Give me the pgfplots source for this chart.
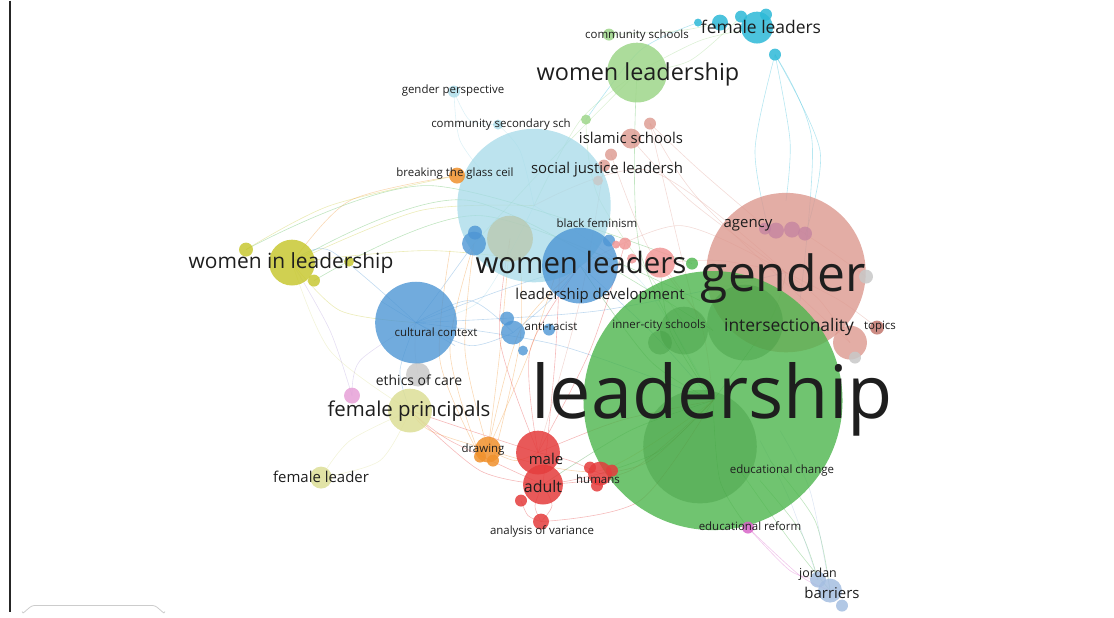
\documentclass[border=0pt]{standalone}
\usepackage{pgfplots}
\pgfplotsset{compat=1.18}
\usepackage{fontspec}
\setmainfont{Open Sans}
\definecolor{cgreen}{RGB}{76,181,76}
\definecolor{cdgreen}{RGB}{60,150,60}
\definecolor{clgreen}{RGB}{158,214,138}
\definecolor{crosy}{RGB}{220,152,142}
\definecolor{cagency}{RGB}{195,130,160}
\definecolor{ctopic}{RGB}{190,110,100}
\definecolor{cgray}{RGB}{200,200,200}
\definecolor{clblue}{RGB}{165,218,232}
\definecolor{ckhaki}{RGB}{185,198,170}
\definecolor{ccyan}{RGB}{45,185,215}
\definecolor{cblue}{RGB}{78,150,212}
\definecolor{cpblue}{RGB}{165,190,225}
\definecolor{cyel}{RGB}{200,200,50}
\definecolor{cpyel}{RGB}{220,222,150}
\definecolor{cpink}{RGB}{230,160,215}
\definecolor{corange}{RGB}{240,145,45}
\definecolor{cred}{RGB}{228,60,60}
\definecolor{csalmon}{RGB}{240,150,150}
\definecolor{cmag}{RGB}{215,100,200}
\definecolor{cpurple}{RGB}{180,160,220}
\definecolor{labc}{RGB}{30,30,30}
\pgfplotsset{
  bub/.style 2 args={scatter, only marks, mark=*, color=#1, point meta=\thisrow{r},
    mark options={fill=#1, draw opacity=0, fill opacity=#2},
    visualization depends on={\thisrow{r}\as\rad},
    scatter/@pre marker code/.code={\scope[mark size=\rad]},
    scatter/@post marker code/.code={\endscope}},
  edge/.style={smooth, no marks, line width=0.6pt, draw=#1, draw opacity=0.35},
}
\newcommand{\lab}[4]{\node[anchor=base, inner sep=0pt, text=labc, font={\fontsize{#3}{#3}\selectfont}] at (axis cs:#1,#2) {#4};}
\begin{document}
\begin{tikzpicture}
\begin{axis}[width=1114bp, height=611bp, scale only axis,
  xmin=0, xmax=1114, ymin=0, ymax=611, y dir=reverse,
  hide axis, clip=false, set layers]
\path (axis cs:0,0) rectangle (axis cs:1114,611);
% ---------------- bubbles ----------------
\addplot[bub={crosy}{0.8}] table {
x y r
786 272 80
850 342 17
631 138 10
650 123 6
611 154 6
604 165 6
};
\addplot[bub={clblue}{0.75}] table {
x y r
534 205 77
454 91 6
498 124 5
};
\addplot[bub={ckhaki}{0.7}] table {
x y r
510 238 23
};
\addplot[bub={cgreen}{0.8}] table {
x y r
713 400 130
692 263 6
};
\addplot[bub={cdgreen}{0.35}] table {
x y r
700 446 57
745 322 38
684 330 24
660 342 12
};
\addplot[bub={clgreen}{0.85}] table {
x y r
637 72 30
609 34 6
586 119 5
};
\addplot[bub={cagency}{0.75}] table {
x y r
776 230 8
792 229 8
805 233 7
765 228 6
};
\addplot[bub={ctopic}{0.8}] table {
x y r
877 327 7
};
\addplot[bub={cgray}{0.85}] table {
x y r
866 276 7
855 357 6
418 374 12
598 180 5
};
\addplot[bub={ccyan}{0.85}] table {
x y r
757 27 16
720 22 8
741 16 6
766 14 6
775 54 6
698 22 4
};
\addplot[bub={cblue}{0.8}] table {
x y r
580 265 38
416 322 41
513 332 12
507 318 7
549 329 6
523 350 5
474 243 12
475 232 7
609 240 6
};
\addplot[bub={cpblue}{0.85}] table {
x y r
830 590 12
818 579 8
842 605 6
};
\addplot[bub={cyel}{0.85}] table {
x y r
292 262 23
246 249 7
314 280 6
349 261 5
};
\addplot[bub={cpyel}{0.85}] table {
x y r
410 410 22
321 477 11
};
\addplot[bub={cpink}{0.85}] table {
x y r
352 395 8
};
\addplot[bub={corange}{0.85}] table {
x y r
488 449 13
493 460 6
480 456 6
457 175 8
};
\addplot[bub={cred}{0.85}] table {
x y r
538 452 22
543 484 20
541 521 8
600 473 12
590 467 6
612 470 6
597 485 6
521 500 6
};
\addplot[bub={csalmon}{0.85}] table {
x y r
660 262 15
625 243 6
632 258 5
616 244 4
};
\addplot[bub={cmag}{0.85}] table {
x y r
748 527 6
};
% ---------------- edges ----------------
\addplot[edge=cgreen] coordinates {(713,400) (640,250) (637,72)};
\addplot[edge=cgreen] coordinates {(246,249) (430,185) (692,263)};
\addplot[edge=cgreen] coordinates {(292,262) (470,200) (713,330)};
\addplot[edge=cgreen] coordinates {(314,280) (480,215) (700,300)};
\addplot[edge=cdgreen] coordinates {(713,400) (660,450) (600,473)};
\addplot[edge=cdgreen] coordinates {(713,400) (630,430) (543,484)};
\addplot[edge=cdgreen] coordinates {(713,400) (770,320) (786,272)};
\addplot[edge=cdgreen] coordinates {(713,400) (720,480) (748,527)};
\addplot[edge=cdgreen] coordinates {(713,400) (670,330) (660,262)};
\addplot[edge=cdgreen] coordinates {(713,400) (650,360) (580,265)};
\addplot[edge=clgreen] coordinates {(586,119) (600,200) (690,330)};
\addplot[edge=clgreen] coordinates {(637,72) (580,120) (534,205)};
\addplot[edge=clgreen] coordinates {(637,72) (560,150) (474,243)};
\addplot[edge=clgreen] coordinates {(609,34) (680,30) (720,22)};
\addplot[edge=clgreen] coordinates {(637,72) (700,40) (757,27)};
\addplot[edge=clgreen] coordinates {(637,72) (690,60) (741,16)};
\addplot[edge=cgreen] coordinates {(760,480) (800,530) (818,579)};
\addplot[edge=cgreen] coordinates {(740,470) (790,540) (830,590)};
\addplot[edge=cgreen] coordinates {(770,460) (815,520) (830,590)};
\addplot[edge=ccyan] coordinates {(775,54) (755,150) (770,235)};
\addplot[edge=ccyan] coordinates {(775,54) (820,150) (805,235)};
\addplot[edge=ccyan] coordinates {(775,54) (790,140) (786,200)};
\addplot[edge=ccyan] coordinates {(775,54) (812,140) (800,300)};
\addplot[edge=ccyan] coordinates {(698,22) (640,50) (586,119)};
\addplot[edge=clblue] coordinates {(454,91) (460,140) (490,180)};
\addplot[edge=clblue] coordinates {(454,91) (470,120) (498,124)};
\addplot[edge=clblue] coordinates {(498,124) (520,150) (534,205)};
\addplot[edge=clblue] coordinates {(534,205) (480,300) (416,322)};
\addplot[edge=clblue] coordinates {(534,205) (640,280) (713,400)};
\addplot[edge=crosy] coordinates {(631,138) (690,200) (786,272)};
\addplot[edge=crosy] coordinates {(650,123) (700,170) (770,230)};
\addplot[edge=crosy] coordinates {(611,154) (650,250) (713,330)};
\addplot[edge=crosy] coordinates {(650,123) (680,250) (700,330)};
\addplot[edge=crosy] coordinates {(786,272) (680,225) (580,265)};
\addplot[edge=crosy] coordinates {(786,272) (650,170) (534,205)};
\addplot[edge=crosy] coordinates {(877,327) (840,300) (786,272)};
\addplot[edge=crosy] coordinates {(866,276) (830,250) (800,230)};
\addplot[edge=crosy] coordinates {(604,165) (580,300) (538,452)};
\addplot[edge=crosy] coordinates {(650,123) (700,200) (850,342)};
\addplot[edge=crosy] coordinates {(786,272) (820,300) (850,342)};
\addplot[edge=cyel] coordinates {(292,262) (420,210) (534,205)};
\addplot[edge=cyel] coordinates {(292,262) (430,250) (580,265)};
\addplot[edge=cyel] coordinates {(292,262) (340,310) (416,322)};
\addplot[edge=cyel] coordinates {(246,249) (330,205) (457,175)};
\addplot[edge=cpyel] coordinates {(292,262) (330,350) (410,410)};
\addplot[edge=cpyel] coordinates {(410,410) (350,440) (321,477)};
\addplot[edge=cpyel] coordinates {(410,410) (380,460) (321,477)};
\addplot[edge=cblue] coordinates {(416,322) (500,290) (580,265)};
\addplot[edge=cblue] coordinates {(416,322) (560,345) (713,400)};
\addplot[edge=cblue] coordinates {(416,322) (470,345) (513,332)};
\addplot[edge=cblue] coordinates {(416,322) (470,300) (513,332)};
\addplot[edge=cblue] coordinates {(416,322) (400,370) (410,410)};
\addplot[edge=cblue] coordinates {(474,243) (440,290) (416,322)};
\addplot[edge=cblue] coordinates {(513,332) (550,300) (580,265)};
\addplot[edge=cblue] coordinates {(580,265) (650,330) (713,400)};
\addplot[edge=cblue] coordinates {(416,322) (600,310) (786,272)};
\addplot[edge=cblue] coordinates {(416,322) (330,250) (292,262)};
\addplot[edge=cblue] coordinates {(380,300) (416,322) (455,345)};
\addplot[edge=cpurple] coordinates {(416,322) (360,360) (352,395)};
\addplot[edge=cpurple] coordinates {(352,395) (330,330) (292,262)};
\addplot[edge=corange] coordinates {(488,449) (465,350) (474,243)};
\addplot[edge=corange] coordinates {(488,449) (500,350) (510,238)};
\addplot[edge=corange] coordinates {(488,449) (530,350) (560,260)};
\addplot[edge=corange] coordinates {(480,456) (450,350) (474,243)};
\addplot[edge=corange] coordinates {(493,460) (520,340) (520,250)};
\addplot[edge=corange] coordinates {(488,449) (600,470) (713,400)};
\addplot[edge=corange] coordinates {(488,449) (430,430) (410,410)};
\addplot[edge=corange] coordinates {(457,175) (350,200) (292,262)};
\addplot[edge=corange] coordinates {(488,449) (520,330) (580,265)};
\addplot[edge=corange] coordinates {(488,449) (515,460) (538,452)};
\addplot[edge=corange] coordinates {(480,456) (440,360) (450,250)};
\addplot[edge=cred] coordinates {(538,452) (620,420) (713,400)};
\addplot[edge=cred] coordinates {(543,484) (630,470) (713,400)};
\addplot[edge=cred] coordinates {(538,452) (530,350) (580,265)};
\addplot[edge=cred] coordinates {(543,484) (555,360) (560,260)};
\addplot[edge=cred] coordinates {(538,452) (500,340) (510,238)};
\addplot[edge=cred] coordinates {(543,484) (535,505) (541,521)};
\addplot[edge=cred] coordinates {(543,484) (552,505) (541,521)};
\addplot[edge=cred] coordinates {(521,500) (528,515) (541,521)};
\addplot[edge=cred] coordinates {(538,452) (470,430) (410,410)};
\addplot[edge=cred] coordinates {(543,484) (450,440) (410,410)};
\addplot[edge=cred] coordinates {(600,473) (650,460) (713,400)};
\addplot[edge=cred] coordinates {(538,452) (570,460) (600,473)};
\addplot[edge=cred] coordinates {(543,484) (570,480) (600,473)};
\addplot[edge=cred] coordinates {(538,452) (590,350) (625,243)};
\addplot[edge=cred] coordinates {(541,521) (640,500) (713,400)};
\addplot[edge=cred] coordinates {(543,484) (480,470) (410,410)};
\addplot[edge=csalmon] coordinates {(660,262) (700,320) (713,400)};
\addplot[edge=csalmon] coordinates {(660,262) (720,260) (786,272)};
\addplot[edge=cmag] coordinates {(748,527) (790,570) (818,579)};
\addplot[edge=cmag] coordinates {(748,527) (800,575) (830,590)};
\addplot[edge=cpblue] coordinates {(818,579) (790,500) (760,440)};
\addplot[edge=cpblue] coordinates {(830,590) (810,490) (780,430)};
\addplot[edge=cgray] coordinates {(418,374) (415,350) (416,322)};
% ---------------- labels ----------------
\begin{pgfonlayer}{axis foreground}
\lab{712}{418}{74}{leadership}
\lab{783}{291}{50}{gender}
\lab{581}{273}{29.5}{women leaders}
\lab{638}{80}{23.5}{women leadership}
\lab{291}{268}{21}{women in leadership}
\lab{761}{33}{17.5}{female leaders}
\lab{409}{416}{20.5}{female principals}
\lab{789}{331}{17.5}{intersectionality}
\lab{600}{299}{15}{leadership development}
\lab{607}{173}{15}{social justice leadersh}
\lab{631}{143}{15}{islamic schools}
\lab{419}{385}{14}{ethics of care}
\lab{321}{482}{15}{female leader}
\lab{546}{464}{15}{male}
\lab{543}{492}{16}{adult}
\lab{748}{227}{15}{agency}
\lab{818}{577}{12.5}{jordan}
\lab{832}{598}{15}{barriers}
\lab{637}{38}{11.5}{community schools}
\lab{453}{93}{11.5}{gender perspective}
\lab{501}{127}{11.5}{community secondary sch}
\lab{455}{176}{11.5}{breaking the glass ceil}
\lab{597}{227}{11.5}{black feminism}
\lab{436}{336}{11.5}{cultural context}
\lab{551}{330}{11.5}{anti-racist}
\lab{659}{328}{11.5}{inner-city schools}
\lab{880}{329}{11.5}{topics}
\lab{483}{452}{11.5}{drawing}
\lab{598}{483}{11.5}{humans}
\lab{542}{534}{11.5}{analysis of variance}
\lab{782}{473}{11.5}{educational change}
\lab{750}{530}{11.5}{educational reform}
% frame bits
\draw[line width=1.2pt, black!85] (axis cs:10,0) -- (axis cs:10,611);
\draw[black!20, line width=0.8pt] (axis cs:22,611) to[out=-90,in=180] (axis cs:34,605) -- (axis cs:153,605) to[out=0,in=-90] (axis cs:165,611);
\end{pgfonlayer}
\end{axis}
\end{tikzpicture}
\end{document}
